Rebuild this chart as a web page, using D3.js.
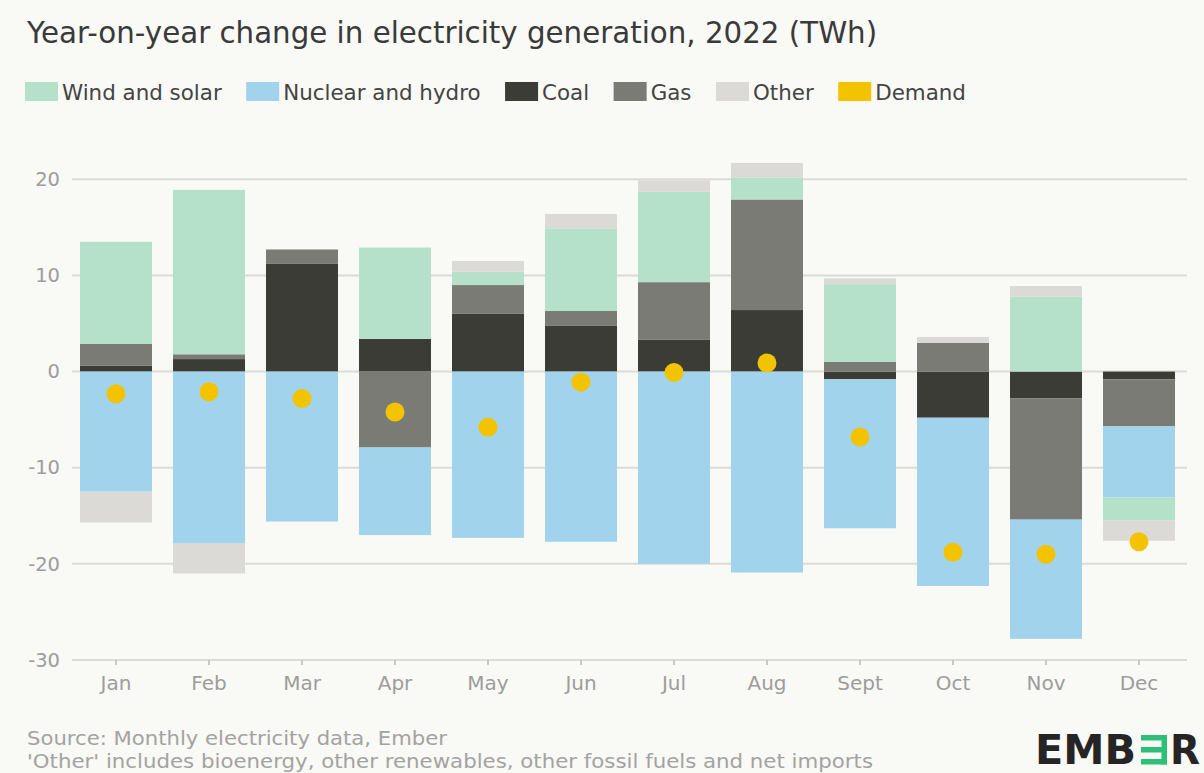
<!DOCTYPE html>
<html>
<head>
<meta charset="utf-8">
<script src="https://cdn.jsdelivr.net/npm/d3@7"></script>
<style>
  html, body { margin: 0; padding: 0; background: #f9f9f5; }
  svg { display: block; }
  text { font-family: "DejaVu Sans", sans-serif; }
</style>
</head>
<body>
<svg id="chart" width="1204" height="773"></svg>
<script>
// Monthly year-on-year change in generation by source, 2022 (TWh)
const months = ["Jan", "Feb", "Mar", "Apr", "May", "Jun", "Jul", "Aug", "Sept", "Oct", "Nov", "Dec"];
const coal = [0.6, 1.3, 11.2, 3.4, 6.0, 4.8, 3.3, 6.4, -0.8, -4.8, -2.8, -0.8];
const gas = [2.3, 0.5, 1.5, -7.9, 3.0, 1.5, 6.0, 11.5, 1.0, 3.0, -12.6, -4.9];
const nuclearHydro = [-12.5, -17.9, -15.6, -9.1, -17.3, -17.7, -20.0, -20.9, -15.5, -17.5, -12.4, -7.4];
const windSolar = [10.6, 17.1, 0, 9.5, 1.4, 8.6, 9.4, 2.3, 8.1, 0, 7.8, -2.4];
const other = [-3.2, -3.1, 0, 0, 1.1, 1.5, 1.2, 1.5, 0.6, 0.6, 1.1, -2.1];
const demand = [-2.3, -2.1, -2.8, -4.2, -5.8, -1.1, -0.1, 0.9, -6.8, -18.8, -19.0, -17.7];
const yTicks = [-30, -20, -10, 0, 10, 20];

const legendItems = ["Wind and solar", "Nuclear and hydro", "Coal", "Gas", "Other", "Demand"];
const colors = {
  "Wind and solar": "#b5e1ca",
  "Nuclear and hydro": "#a1d4ec",
  "Coal": "#3c3c37",
  "Gas": "#7b7b76",
  "Other": "#dcdad6",
  "Demand": "#f3c300"
};

// stacking order from zero outwards
const stackKeys = ["Coal", "Gas", "Nuclear and hydro", "Wind and solar", "Other"];
const seriesByKey = {
  "Coal": coal, "Gas": gas, "Nuclear and hydro": nuclearHydro,
  "Wind and solar": windSolar, "Other": other
};
const rows = months.map((m, i) => {
  const r = { month: m };
  stackKeys.forEach(k => { r[k] = seriesByKey[k][i]; });
  return r;
});

const svg = d3.select("#chart");

svg.append("text")
  .attr("x", 27).attr("y", 43)
  .attr("font-size", 29.3)
  .attr("fill", "#3a3a3a")
  .text("Year-on-year change in electricity generation, 2022 (TWh)");

// legend laid out left to right
let lx = 25;
const legend = svg.append("g");
legendItems.forEach(name => {
  legend.append("rect")
    .attr("x", lx).attr("y", 82).attr("width", 33).attr("height", 19)
    .attr("fill", colors[name]);
  const t = legend.append("text")
    .attr("x", lx + 37).attr("y", 100)
    .attr("font-size", 21.4)
    .attr("fill", "#444")
    .text(name);
  lx += 37 + t.node().getComputedTextLength() + 24.5;
});

const x = d3.scaleBand()
  .domain(months)
  .range([69.5, 1185.5])
  .paddingInner(0.226)
  .paddingOuter(0.113);

const y = d3.scaleLinear()
  .domain([-30, 20])
  .range([660, 179.3]);

// gridlines and y labels
const yAxis = d3.axisLeft(y).tickValues(yTicks).tickFormat(d => String(d)).tickSize(0).tickPadding(12);
const yg = svg.append("g").attr("transform", "translate(72,0)").call(yAxis);
yg.select(".domain").remove();
yg.selectAll(".tick line").remove();
yg.selectAll(".tick text")
  .attr("font-family", "DejaVu Sans, sans-serif")
  .attr("font-size", 19.5)
  .attr("fill", "#9d9d9b");
svg.append("g").selectAll("line")
  .data(yTicks)
  .join("line")
  .attr("x1", 72).attr("x2", 1187)
  .attr("y1", d => y(d)).attr("y2", d => y(d))
  .attr("stroke", "#dcdbd6")
  .attr("stroke-width", 2);

// month axis at the bottom
const xAxis = d3.axisBottom(x).tickSize(5).tickPadding(11);
const xg = svg.append("g").attr("transform", `translate(0,${y(-30)})`).call(xAxis);
xg.select(".domain").remove();
xg.selectAll(".tick line").attr("stroke", "#b8b8b5").attr("stroke-width", 1.5);
xg.selectAll(".tick text")
  .attr("font-family", "DejaVu Sans, sans-serif")
  .attr("font-size", 20)
  .attr("fill", "#9d9d9b");

// stacked bars
const stacked = d3.stack()
  .keys(stackKeys)
  .order(d3.stackOrderNone)
  .offset(d3.stackOffsetDiverging)(rows);

svg.append("g").selectAll("g")
  .data(stacked)
  .join("g")
  .attr("fill", d => colors[d.key])
  .selectAll("rect")
  .data(d => d)
  .join("rect")
  .attr("x", d => x(d.data.month))
  .attr("width", x.bandwidth())
  .attr("y", d => y(Math.max(d[0], d[1])))
  .attr("height", d => Math.abs(y(d[0]) - y(d[1])));

// demand dots
svg.append("g").selectAll("circle")
  .data(demand)
  .join("circle")
  .attr("cx", (d, i) => x(months[i]) + x.bandwidth() / 2)
  .attr("cy", d => y(d))
  .attr("r", 9.5)
  .attr("fill", colors["Demand"]);

// footer notes, slightly widened wide-set lettering
svg.append("text")
  .attr("x", 27).attr("y", 745)
  .attr("font-size", 19.5)
  .attr("textLength", 420)
  .attr("lengthAdjust", "spacingAndGlyphs")
  .attr("fill", "#a3a3a1")
  .text("Source: Monthly electricity data, Ember");
svg.append("text")
  .attr("x", 27).attr("y", 768)
  .attr("font-size", 19.5)
  .attr("textLength", 846)
  .attr("lengthAdjust", "spacingAndGlyphs")
  .attr("fill", "#a3a3a1")
  .text("'Other' includes bioenergy, other renewables, other fossil fuels and net imports");

// EMBER wordmark, right-aligned
const logo = svg.append("g");
const logoFamily = "Liberation Sans, Arial, sans-serif";
const logoSize = 41;
const logoBase = 764;
logo.append("text")
  .attr("x", 1170).attr("y", logoBase)
  .attr("font-family", logoFamily)
  .attr("font-weight", "bold")
  .attr("font-size", logoSize)
  .attr("textLength", 30)
  .attr("lengthAdjust", "spacingAndGlyphs")
  .attr("fill", "#252525")
  .text("R");
const green = "#2ebf78";
[735, 747, 759].forEach(yy => {
  logo.append("rect").attr("x", 1141).attr("y", yy).attr("width", 26).attr("height", 5.5).attr("fill", green);
});
logo.append("rect").attr("x", 1161.5).attr("y", 735).attr("width", 5.5).attr("height", 29.5).attr("fill", green);
logo.append("text")
  .attr("x", 1035).attr("y", logoBase)
  .attr("font-family", logoFamily)
  .attr("font-weight", "bold")
  .attr("font-size", logoSize)
  .attr("textLength", 101)
  .attr("lengthAdjust", "spacingAndGlyphs")
  .attr("fill", "#252525")
  .text("EMB");
</script>
</body>
</html>
